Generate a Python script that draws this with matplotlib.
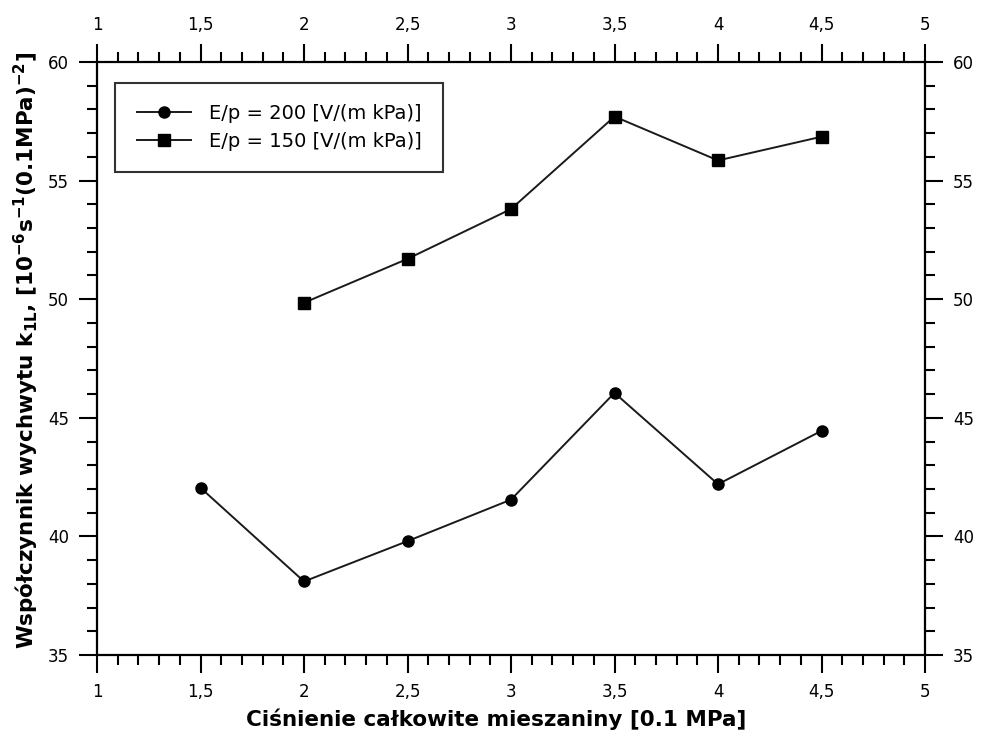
import matplotlib
matplotlib.use("Agg")
import matplotlib.pyplot as plt
from matplotlib.ticker import MultipleLocator, FuncFormatter

# Measured capture coefficients vs total mixture pressure
pressure_200 = [1.5, 2.0, 2.5, 3.0, 3.5, 4.0, 4.5]
k_200 = [42.05, 38.1, 39.8, 41.55, 46.05, 42.2, 44.45]

pressure_150 = [2.0, 2.5, 3.0, 3.5, 4.0, 4.5]
k_150 = [49.85, 51.7, 53.8, 57.7, 55.85, 56.85]

label_200 = "E/p = 200 [V/(m kPa)]"
label_150 = "E/p = 150 [V/(m kPa)]"

xlabel = "Ciśnienie całkowite mieszaniny [0.1 MPa]"
ylabel = r"Współczynnik wychwytu k$_{\mathbf{1L}}$, [10$^{\mathbf{-6}}$s$^{\mathbf{-1}}$(0.1MPa)$^{\mathbf{-2}}$]"

plt.rcParams['font.family'] = ['DejaVu Sans']
plt.rcParams['mathtext.default'] = 'regular'

fig = plt.figure(figsize=(9.86, 7.38), dpi=100)
ax = fig.add_axes([97/986, 1 - 655/738, 828/986, 593/738])

line_col = '#1a1a1a'
ax.plot(pressure_200, k_200, color=line_col, lw=1.4, marker='o', ms=8,
        mfc='black', mec='black', label=label_200)
ax.plot(pressure_150, k_150, color=line_col, lw=1.4, marker='s', ms=9,
        mfc='black', mec='black', label=label_150)

ax.set_xlim(1, 5)
ax.set_ylim(35, 60)

def comma_fmt(v, pos):
    if abs(v - round(v)) < 1e-9:
        return f"{int(round(v))}"
    return f"{v:g}".replace('.', ',')

ax.xaxis.set_major_locator(MultipleLocator(0.5))
ax.xaxis.set_minor_locator(MultipleLocator(0.1))
ax.yaxis.set_major_locator(MultipleLocator(5))
ax.yaxis.set_minor_locator(MultipleLocator(1))
ax.xaxis.set_major_formatter(FuncFormatter(comma_fmt))
ax.yaxis.set_major_formatter(FuncFormatter(comma_fmt))

ax.tick_params(which='both', direction='out', top=True, right=True,
               labeltop=True, labelright=True, color='black', width=1.5)
ax.tick_params(which='major', length=13, labelsize=12, pad=7)
ax.tick_params(which='minor', length=7)

for s in ax.spines.values():
    s.set_linewidth(1.6)
    s.set_color('black')

ax.set_xlabel(xlabel, fontsize=15.5, fontweight='bold')
ax.xaxis.set_label_coords(0.482, -0.09)
ax.set_ylabel(ylabel, fontsize=15.5, fontweight='bold')
ax.yaxis.set_label_coords(-0.068, 0.514)

leg = ax.legend(loc='upper left', bbox_to_anchor=(0.022, 0.965), fontsize=14,
                frameon=True, fancybox=False, edgecolor='black',
                borderpad=1.1, handlelength=2.8, handletextpad=0.9,
                labelspacing=0.45, borderaxespad=0)
leg.get_frame().set_linewidth(1.5)

fig.savefig("out.png", dpi=100, facecolor='white')
